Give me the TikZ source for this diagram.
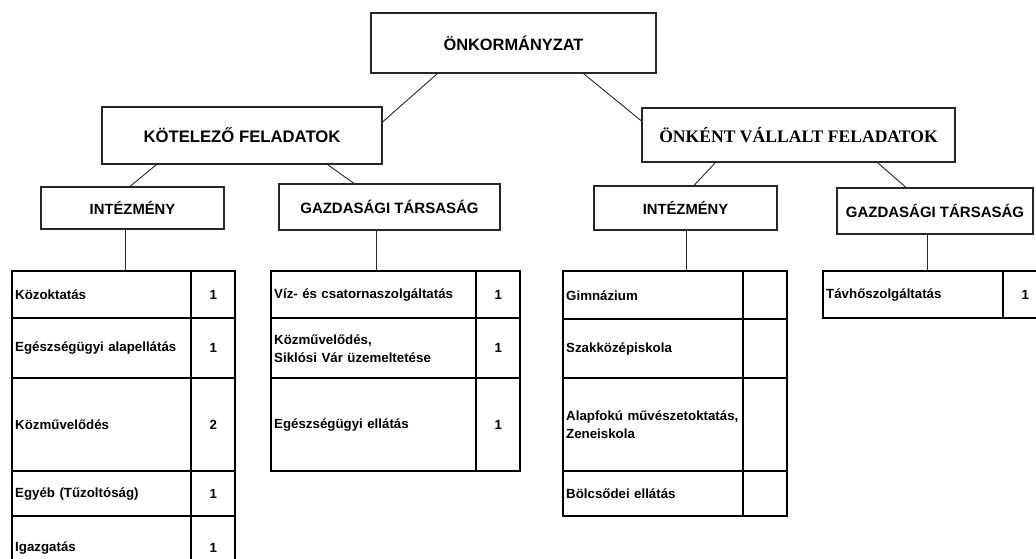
\documentclass[tikz,border=0pt]{standalone}
\usepackage{fontspec}
\setmainfont{Liberation Sans}
\newfontfamily\tnr{Liberation Serif}
\begin{document}
\begin{tikzpicture}[x=1pt,y=-1pt,
  box/.style={draw=black!85, line width=1.1pt, fill=white, inner sep=0pt, font=\bfseries},
  conn/.style={draw=black!85, line width=0.9pt},
  cell/.style={draw=black, line width=2.4pt, inner xsep=3pt, inner ysep=0pt, anchor=north west,
    align=left, font=\bfseries\fontsize{13.3}{18}\selectfont},
  numcell/.style={draw=black, line width=2.4pt, inner sep=0pt, anchor=north west,
    align=center, font=\bfseries\fontsize{13.3}{18}\selectfont}
]
\useasboundingbox (0,0) rectangle (1036,558);
\fill[white] (0,0) rectangle (1036,558);
\clip (0,0) rectangle (1036,558);

% top level boxes
\node[box, minimum width=285pt, minimum height=60pt, font=\bfseries\fontsize{16.4}{19}\selectfont] (top) at (513.5,43) {ÖNKORMÁNYZAT};
\node[box, minimum width=280pt, minimum height=57pt, font=\bfseries\fontsize{16.7}{19}\selectfont] (kot) at (242,135.5) {KÖTELEZŐ FELADATOK};
\node[box, minimum width=313pt, minimum height=54pt, font=\tnr\bfseries\fontsize{17.6}{20}\selectfont] (onk) at (798.5,135) {ÖNKÉNT VÁLLALT FELADATOK};
\node[box, minimum width=183pt, minimum height=42pt, font=\bfseries\fontsize{14.8}{18}\selectfont] (int1) at (132.5,208) {INTÉZMÉNY};
\node[box, minimum width=221pt, minimum height=46pt, font=\bfseries\fontsize{15}{18}\selectfont] (gaz1) at (389.5,207) {GAZDASÁGI TÁRSASÁG};
\node[box, minimum width=183pt, minimum height=44pt, font=\bfseries\fontsize{14.8}{18}\selectfont] (int2) at (685.5,208) {INTÉZMÉNY};
\node[box, minimum width=196pt, minimum height=46pt, font=\bfseries\fontsize{15}{18}\selectfont] (gaz2) at (935,211) {GAZDASÁGI TÁRSASÁG};

% connectors between boxes
\draw[conn] ([xshift=67pt]top.south west) -- ([yshift=13.5pt]kot.east);
\draw[conn] ([xshift=213pt]top.south west) -- ([yshift=14pt]onk.west);
\draw[conn] ([xshift=55pt]kot.south west) -- ([xshift=-2.5pt]int1.north);
\draw[conn] ([xshift=226pt]kot.south west) -- ([xshift=-35.5pt]gaz1.north);
\draw[conn] ([xshift=74pt]onk.south west) -- ([xshift=8.5pt]int2.north);
\draw[conn] ([xshift=236pt]onk.south west) -- ([xshift=-29pt]gaz2.north);

% left table (kötelező - intézmény)
\node[cell, minimum width=179pt, minimum height=47pt, text width=173pt] (a1) at (11,270) {Közoktatás};
\node[numcell, minimum width=44pt, minimum height=47pt] (a1n) at (190,270) {1};
\node[cell, minimum width=179pt, minimum height=60pt, text width=173pt] (a2) at (11,317) {Egészségügyi alapellátás};
\node[numcell, minimum width=44pt, minimum height=60pt] (a2n) at (190,317) {1};
\node[cell, minimum width=179pt, minimum height=93pt, text width=173pt] (a3) at (11,377) {Közművelődés};
\node[numcell, minimum width=44pt, minimum height=93pt] (a3n) at (190,377) {2};
\node[cell, minimum width=179pt, minimum height=45pt, text width=173pt] (a4) at (11,470) {Egyéb (Tűzoltóság)};
\node[numcell, minimum width=44pt, minimum height=45pt] (a4n) at (190,470) {1};
\node[cell, minimum width=179pt, minimum height=63pt, text width=173pt] (a5) at (11,515) {Igazgatás};
\node[numcell, minimum width=44pt, minimum height=63pt] (a5n) at (190,515) {1};

% middle table (kötelező - gazdasági társaság)
\node[cell, minimum width=205pt, minimum height=47pt, text width=199pt] (b1) at (270,270) {Víz- és csatornaszolgáltatás};
\node[numcell, minimum width=44pt, minimum height=47pt] (b1n) at (475,270) {1};
\node[cell, minimum width=205pt, minimum height=60pt, text width=199pt] (b2) at (270,317) {Közművelődés,\\Siklósi Vár üzemeltetése};
\node[numcell, minimum width=44pt, minimum height=60pt] (b2n) at (475,317) {1};
\node[cell, minimum width=205pt, minimum height=93pt, text width=199pt] (b3) at (270,377) {Egészségügyi ellátás};
\node[numcell, minimum width=44pt, minimum height=93pt] (b3n) at (475,377) {1};

% right table (önként - intézmény)
\node[cell, minimum width=180pt, minimum height=48pt, text width=174pt] (c1) at (562,270) {Gimnázium};
\node[numcell, minimum width=44pt, minimum height=48pt] (c1n) at (742,270) {};
\node[cell, minimum width=180pt, minimum height=59pt, text width=174pt] (c2) at (562,318) {Szakközépiskola};
\node[numcell, minimum width=44pt, minimum height=59pt] (c2n) at (742,318) {};
\node[cell, minimum width=180pt, minimum height=93pt, text width=174pt] (c3) at (562,377) {Alapfokú művészetoktatás,\\Zeneiskola};
\node[numcell, minimum width=44pt, minimum height=93pt] (c3n) at (742,377) {};
\node[cell, minimum width=180pt, minimum height=45pt, text width=174pt] (c4) at (562,470) {Bölcsődei ellátás};
\node[numcell, minimum width=44pt, minimum height=45pt] (c4n) at (742,470) {};

% far right table (önként - gazdasági társaság)
\node[cell, minimum width=180pt, minimum height=47pt, text width=174pt] (d1) at (822,270) {Távhőszolgáltatás};
\node[numcell, minimum width=44pt, minimum height=47pt] (d1n) at (1002,270) {1};

% vertical connectors to tables
\draw[conn] ([xshift=-7.5pt]int1.south) -- ([xshift=-7.5pt]int1.south |- a1.north);
\draw[conn] ([xshift=-13.5pt]gaz1.south) -- ([xshift=-13.5pt]gaz1.south |- b1.north);
\draw[conn] ([xshift=0.5pt]int2.south) -- ([xshift=0.5pt]int2.south |- c1.north);
\draw[conn] ([xshift=-8pt]gaz2.south) -- ([xshift=-8pt]gaz2.south |- d1.north);
\end{tikzpicture}
\end{document}
